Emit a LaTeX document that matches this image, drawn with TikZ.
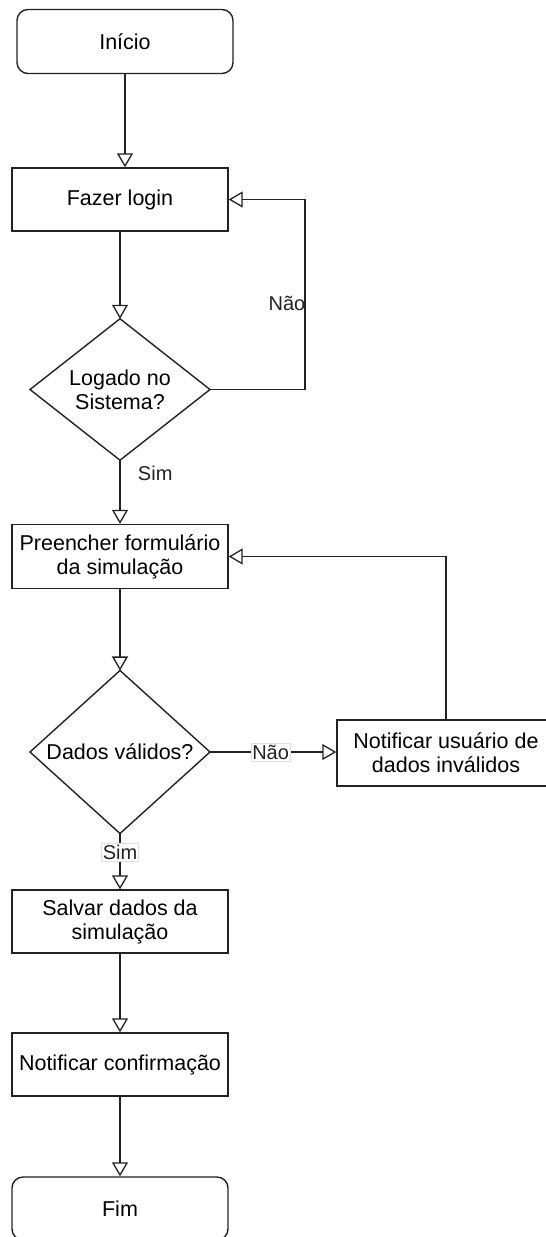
\documentclass[tikz,border=0pt]{standalone}
\usepackage{fontspec}
\setmainfont{Liberation Sans}
\usetikzlibrary{shapes.geometric,arrows.meta}
\definecolor{ln}{HTML}{222222}
\tikzset{
  boxnode/.style={draw=ln, line width=1.4pt, minimum width=216pt, minimum height=63pt, inner sep=0pt, align=center, font=\fontsize{21.5}{24}\selectfont},
  roundnode/.style={boxnode, rounded corners=11pt},
  decnode/.style={draw=ln, line width=1.4pt, diamond, inner sep=0pt, outer sep=0pt, align=center, font=\fontsize{21.5}{24}\selectfont},
  arr/.style={draw=ln, line width=1.3pt, -{Triangle[open, length=14pt, width=16pt, line width=1.3pt]}},
  lbl/.style={font=\fontsize{20}{22}\selectfont, text=ln},
  lblbox/.style={lbl, fill=white, draw=gray!25, line width=0.5pt, inner sep=1.5pt},
}
\begin{document}
\begin{tikzpicture}[x=1pt,y=-1pt]
\useasboundingbox (0,0) rectangle (546,1237);
\node[roundnode, minimum width=216pt, minimum height=64pt] (inicio) at (125,41.5) {Início};
\node[boxnode] (login) at (120,199.5) {Fazer login};
\node[decnode, minimum width=180pt, minimum height=125pt] (dec1) at (120,389.5) {Logado no\\Sistema?};
\node[boxnode, minimum height=64pt] (preencher) at (120,556.5) {Preencher formulário\\da simulação};
\node[decnode, minimum width=180pt, minimum height=133pt] (dec2) at (120,752) {Dados válidos?};
\node[boxnode, minimum width=218pt, minimum height=66pt] (notinv) at (446,753) {Notificar usuário de\\dados inválidos};
\node[boxnode] (salvar) at (120,921.5) {Salvar dados da\\simulação};
\node[boxnode] (notconf) at (120,1064.5) {Notificar confirmação};
\node[roundnode] (fim) at (120,1208.5) {Fim};

\coordinate (c1) at (305,389.5);

\draw[arr, line width=2pt] (inicio.south) -- (inicio.south |- login.north);
\draw[arr] (login.south) -- (dec1.north);
\draw[arr] (dec1.east) -- (c1) |- (login.east);
\node[lbl, anchor=east, inner sep=0pt] (nao1) at (305.5,303) {Não};
\draw[arr] (dec1.south) -- node[lbl, pos=0.2, anchor=west, xshift=14pt] (sim1) {Sim} (preencher.north);
\draw[arr] (preencher.south) -- (dec2.north);
\draw[arr] (dec2.east) -- node[lblbox, pos=0.48] (nao2) {Não} (dec2.east -| notinv.west);
\draw[arr] (notinv.north) |- (preencher.east);
\draw[arr] (dec2.south) -- node[lblbox, pos=0.34] (sim2) {Sim} (salvar.north);
\draw[arr] (salvar.south) -- (notconf.north);
\draw[arr] (notconf.south) -- (fim.north);
\end{tikzpicture}
\end{document}
